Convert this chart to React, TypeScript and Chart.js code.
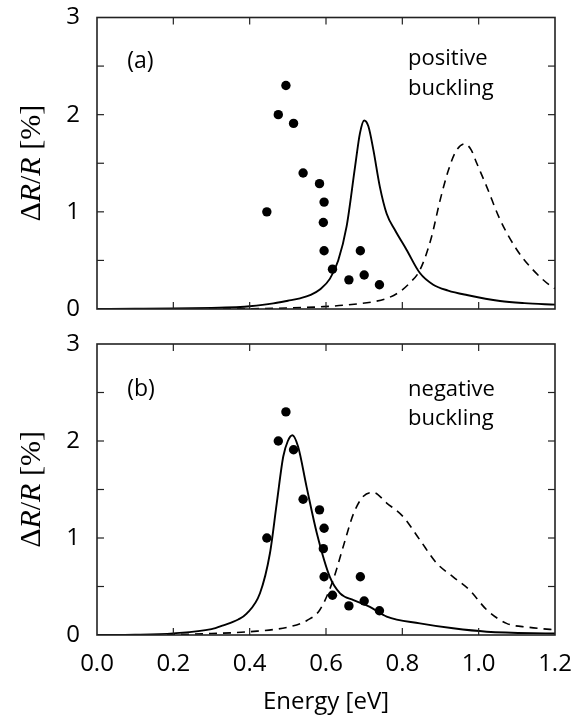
import { useEffect, useRef } from 'react';
import { Chart, registerables } from 'chart.js';

Chart.register(...registerables);

// ---------- data ----------
const expE = [0.445, 0.475, 0.495, 0.515, 0.54, 0.583, 0.595, 0.593, 0.595, 0.617, 0.66, 0.69, 0.7, 0.74];
const expR = [1.0, 2.0, 2.3, 1.91, 1.4, 1.29, 1.1, 0.89, 0.6, 0.41, 0.3, 0.6, 0.35, 0.25];

const posSolidE = [0.0, 0.1, 0.2, 0.3, 0.375, 0.4, 0.462, 0.5, 0.532, 0.56, 0.584, 0.61, 0.632, 0.654, 0.676, 0.689, 0.7, 0.711, 0.724, 0.741, 0.759, 0.781, 0.811, 0.846, 0.881, 0.92, 0.969, 1.056, 1.12, 1.2];
const posSolidR = [0.0, 0.002, 0.005, 0.012, 0.02, 0.028, 0.058, 0.085, 0.11, 0.145, 0.2, 0.31, 0.5, 0.85, 1.46, 1.81, 1.94, 1.88, 1.64, 1.26, 0.98, 0.81, 0.61, 0.37, 0.25, 0.19, 0.144, 0.082, 0.06, 0.045];

const posDashE = [0.0, 0.2, 0.4, 0.5, 0.593, 0.65, 0.724, 0.76, 0.794, 0.82, 0.846, 0.875, 0.899, 0.92, 0.94, 0.963, 0.98, 0.995, 1.021, 1.056, 1.1, 1.143, 1.191, 1.2];
const posDashR = [0.0, 0.0, 0.003, 0.01, 0.024, 0.04, 0.075, 0.11, 0.18, 0.27, 0.4, 0.72, 1.12, 1.42, 1.62, 1.7, 1.64, 1.5, 1.26, 0.92, 0.61, 0.4, 0.23, 0.21];

const negSolidE = [0.0, 0.1, 0.2, 0.3, 0.331, 0.37, 0.392, 0.427, 0.453, 0.471, 0.488, 0.5, 0.512, 0.527, 0.549, 0.576, 0.61, 0.637, 0.672, 0.715, 0.759, 0.846, 0.933, 1.021, 1.2];
const negSolidR = [0.0, 0.003, 0.017, 0.06, 0.1, 0.16, 0.22, 0.43, 0.84, 1.36, 1.84, 2.0, 2.06, 1.94, 1.53, 1.05, 0.6, 0.43, 0.36, 0.29, 0.19, 0.12, 0.069, 0.034, 0.015];

const negDashE = [0.0, 0.2, 0.3, 0.4, 0.506, 0.55, 0.584, 0.619, 0.645, 0.672, 0.698, 0.724, 0.759, 0.802, 0.846, 0.89, 0.933, 0.977, 1.021, 1.073, 1.13, 1.187, 1.2];
const negDashR = [0.0, 0.005, 0.015, 0.034, 0.086, 0.15, 0.26, 0.57, 0.91, 1.25, 1.43, 1.47, 1.36, 1.22, 0.98, 0.74, 0.6, 0.46, 0.26, 0.12, 0.08, 0.058, 0.055];

const xTickValues = [0.0, 0.2, 0.4, 0.6, 0.8, 1.0, 1.2];
const yMinorValues = [0.5, 1.0, 1.5, 2.0, 2.5];
const panelTags = ['(a)', '(b)'];
const panelNotes = [['positive', 'buckling'], ['negative', 'buckling']];
const tagPos = [[0.079, 2.48], [0.079, 2.46]];
const notePos = [[0.815, 2.51, 2.2], [0.815, 2.46, 2.16]];
const yTitleParts: [string, string][] = [['Δ', 'normal'], ['R', 'italic'], ['/', 'normal'], ['R', 'italic'], [' [%]', 'normal']];

const SANS = '"Open Sans", Lato, sans-serif';
const SERIF = '"Liberation Serif", "DejaVu Serif", serif';
const INK = '#000';

const pts = (xs: number[], ys: number[]) => xs.map((x, i) => ({ x, y: ys[i] }));

const decorPlugin = {
  id: 'panelDecor',
  afterDraw(chart: any, _args: any, opts: any) {
    const { ctx, chartArea: a } = chart;
    const x = chart.scales.x;
    const y = chart.scales.y;
    const idx = opts.index;
    ctx.save();
    // frame
    ctx.strokeStyle = '#222';
    ctx.lineWidth = 1.6;
    ctx.strokeRect(a.left, a.top, a.right - a.left, a.bottom - a.top);
    // inward ticks
    ctx.lineWidth = 1.2;
    const L = 7;
    const seg = (x1: number, y1: number, x2: number, y2: number) => {
      ctx.beginPath();
      ctx.moveTo(x1, y1);
      ctx.lineTo(x2, y2);
      ctx.stroke();
    };
    xTickValues.forEach((v) => {
      if (v <= 0 || v >= 1.2) return;
      const px = x.getPixelForValue(v);
      seg(px, a.bottom, px, a.bottom - L);
      seg(px, a.top, px, a.top + L);
    });
    yMinorValues.forEach((v) => {
      const py = y.getPixelForValue(v);
      seg(a.left, py, a.left + L, py);
      seg(a.right, py, a.right - L, py);
    });
    // panel texts
    ctx.fillStyle = INK;
    ctx.textBaseline = 'alphabetic';
    ctx.textAlign = 'left';
    ctx.font = `23px ${SANS}`;
    ctx.fillText(panelTags[idx], x.getPixelForValue(tagPos[idx][0]), y.getPixelForValue(tagPos[idx][1]));
    ctx.font = `22px ${SANS}`;
    const nx = x.getPixelForValue(notePos[idx][0]);
    ctx.fillText(panelNotes[idx][0], nx, y.getPixelForValue(notePos[idx][1]));
    ctx.fillText(panelNotes[idx][1], nx, y.getPixelForValue(notePos[idx][2]));
    // y-axis title
    ctx.translate(32, (a.top + a.bottom) / 2);
    ctx.rotate(-Math.PI / 2);
    ctx.textBaseline = 'middle';
    let total = 0;
    const widths = yTitleParts.map(([t, s]) => {
      ctx.font = `${s} 30px ${SERIF}`;
      const w = ctx.measureText(t).width;
      total += w;
      return w;
    });
    let cx = -total / 2;
    yTitleParts.forEach(([t, s], i) => {
      ctx.font = `${s} 30px ${SERIF}`;
      ctx.fillText(t, cx, 0);
      cx += widths[i];
    });
    ctx.restore();
  },
};

function Panel({ index }: { index: number }) {
  const ref = useRef<HTMLCanvasElement | null>(null);
  const isTop = index === 0;
  const height = isTop ? 325 : 396;
  useEffect(() => {
    if (!ref.current) return;
    const solid = isTop ? pts(posSolidE, posSolidR) : pts(negSolidE, negSolidR);
    const dashed = isTop ? pts(posDashE, posDashR) : pts(negDashE, negDashR);
    const font = { family: SANS, size: 24 };
    const chart = new Chart(ref.current, {
      type: 'line',
      data: {
        datasets: [
          {
            type: 'scatter',
            data: pts(expE, expR),
            pointRadius: 4.7,
            pointBackgroundColor: '#000',
            pointBorderWidth: 0,
            showLine: false,
          } as any,
          {
            data: solid,
            borderColor: '#000',
            borderWidth: 1.9,
            pointRadius: 0,
            cubicInterpolationMode: 'monotone',
            fill: false,
          },
          {
            data: dashed,
            borderColor: '#000',
            borderWidth: 1.6,
            borderDash: [8, 6],
            pointRadius: 0,
            cubicInterpolationMode: 'monotone',
            fill: false,
          },
        ],
      },
      options: {
        animation: false,
        responsive: false,
        devicePixelRatio: 1,
        layout: { padding: { left: 0, right: 24, top: isTop ? 17.5 : 19, bottom: isTop ? 16 : 0 } },
        plugins: {
          legend: { display: false },
          tooltip: { enabled: false },
          panelDecor: { index },
        } as any,
        scales: {
          x: {
            type: 'linear',
            min: 0,
            max: 1.2,
            display: !isTop,
            grid: { display: false, drawTicks: false },
            border: { display: false },
            ticks: {
              stepSize: 0.2,
              padding: 15,
              font,
              color: INK,
              maxRotation: 0,
              autoSkip: false,
              callback: (v: any) => Number(v).toFixed(1),
            },
            title: { display: true, text: 'Energy [eV]', font, color: INK, padding: { top: 0, bottom: 4 } },
            afterFit: (s: any) => {
              if (!isTop) s.height = 86;
              s.paddingLeft = 0;
              s.paddingRight = 0;
            },
          },
          y: {
            type: 'linear',
            min: 0,
            max: 3,
            grid: { display: false, drawTicks: false },
            border: { display: false },
            ticks: {
              stepSize: 1,
              padding: 17,
              font,
              color: INK,
              callback: (v: any) => String(Math.round(Number(v))),
            },
            afterFit: (s: any) => {
              s.width = 97;
              s.paddingTop = 0;
              s.paddingBottom = 0;
            },
          },
        },
      },
      plugins: [decorPlugin],
    } as any);
    return () => chart.destroy();
  }, [index]);
  return (
    <div style={{ position: 'absolute', left: 0, top: isTop ? 0 : 325, width: 579, height }}>
      <canvas ref={ref} width={579} height={height} style={{ display: 'block' }} />
    </div>
  );
}

export default function App() {
  return (
    <div style={{ position: 'absolute', left: 0, top: 0, width: 579, height: 721, background: '#fff' }}>
      <Panel index={0} />
      <Panel index={1} />
    </div>
  );
}
